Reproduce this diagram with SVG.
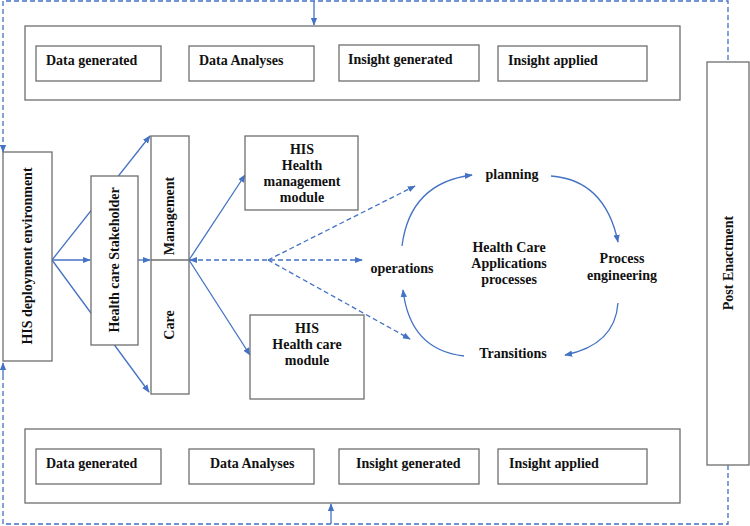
<svg xmlns="http://www.w3.org/2000/svg" width="750" height="526" viewBox="0 0 750 526">
<style>
.b{fill:#fff;stroke:#6e6e6e;stroke-width:1.3}
.t{font-family:"Liberation Serif",serif;font-weight:bold;font-size:14px;fill:#111}
.c{text-anchor:middle}
.l{stroke:#4472c4;stroke-width:1.3;fill:none}
.d{stroke-dasharray:5,3}
</style>
<defs>
<marker id="a" viewBox="0 0 10 10" refX="9" refY="5" markerWidth="8" markerHeight="8" orient="auto-start-reverse" markerUnits="userSpaceOnUse"><path d="M0,1 L10,5 L0,9z" fill="#4472c4"/></marker>
</defs>
<g id="connectors">
<path class="l d" d="M3,150 V1 H728 V62"/>
<path class="l" d="M314,1 V25" marker-end="url(#a)"/>
<path class="l" d="M3,149 V152" marker-end="url(#a)"/>
<path class="l d" d="M3,375 V524 H728 V465"/>
<path class="l" d="M3,375 V363" marker-end="url(#a)"/>
<path class="l" d="M331,524 V504" marker-end="url(#a)"/>
<path class="l" d="M52,260 L150,136" marker-end="url(#a)"/>
<path class="l" d="M52,260 L149,392" marker-end="url(#a)"/>
<path class="l" d="M52,260 H90" marker-end="url(#a)"/>
<path class="l" d="M138,260 H150" marker-end="url(#a)"/>
<path class="l" d="M189,260 L245,175" marker-end="url(#a)"/>
<path class="l" d="M189,260 L250,355" marker-end="url(#a)"/>
<path class="l d" d="M190,260 H362" marker-start="url(#a)" marker-end="url(#a)"/>
<path class="l d" d="M268,260 L415,186" marker-end="url(#a)"/>
<path class="l d" d="M268,260 L410,339" marker-end="url(#a)"/>
<path class="l" d="M402,246 Q410,183 472,175" marker-end="url(#a)"/>
<path class="l" d="M551,176 Q605,180 618,242" marker-end="url(#a)"/>
<path class="l" d="M618,303 Q615,345 565,355" marker-end="url(#a)"/>
<path class="l" d="M464,356 Q410,350 403,290" marker-end="url(#a)"/>
</g>
<g id="top-group">
<rect class="b" x="25" y="26" width="655" height="74"/>
<rect class="b" x="36" y="46" width="125" height="35"/><text class="t" x="46" y="65">Data generated</text>
<rect class="b" x="189" y="46" width="125" height="35"/><text class="t" x="199" y="65">Data Analyses</text>
<rect class="b" x="339" y="45" width="140" height="36"/><text class="t" x="348" y="64">Insight generated</text>
<rect class="b" x="498" y="46" width="149" height="35"/><text class="t" x="508" y="65">Insight applied</text>
</g>
<g id="bottom-group">
<rect class="b" x="25" y="429" width="655" height="74"/>
<rect class="b" x="36" y="449" width="125" height="35"/><text class="t" x="46" y="468">Data generated</text>
<rect class="b" x="189" y="449" width="125" height="35"/><text class="t" x="210" y="468">Data Analyses</text>
<rect class="b" x="339" y="449" width="140" height="35"/><text class="t" x="356" y="468">Insight generated</text>
<rect class="b" x="498" y="449" width="149" height="35"/><text class="t" x="509" y="468">Insight applied</text>
</g>
<g id="his-deployment">
<rect class="b" x="3" y="152" width="49" height="209"/>
<text class="t c" transform="translate(32,256) rotate(-90)">HIS deployment environment</text>
</g>
<g id="stakeholder">
<rect class="b" x="91" y="176" width="47" height="169"/>
<text class="t c" transform="translate(119,260) rotate(-90)">Health care Stakeholder</text>
</g>
<g id="mgmt-care">
<rect class="b" x="151" y="136" width="38" height="258"/>
<line x1="151" y1="260" x2="189" y2="260" stroke="#6e6e6e" stroke-width="1.3"/>
<text class="t c" transform="translate(174,216) rotate(-90)">Management</text>
<text class="t c" transform="translate(174,325) rotate(-90)">Care</text>
</g>
<g id="his-mgmt">
<rect class="b" x="245" y="136" width="113" height="74"/>
<text class="t c" x="302" y="154">HIS</text>
<text class="t c" x="302" y="170">Health</text>
<text class="t c" x="302" y="186">management</text>
<text class="t c" x="302" y="202">module</text>
</g>
<g id="his-care">
<rect class="b" x="250" y="315" width="114" height="84"/>
<text class="t c" x="307" y="333">HIS</text>
<text class="t c" x="307" y="349">Health care</text>
<text class="t c" x="307" y="365">module</text>
</g>
<g id="cycle">
<text class="t c" x="512" y="179">planning</text>
<text class="t c" x="622" y="263">Process</text>
<text class="t c" x="622" y="280">engineering</text>
<text class="t c" x="513" y="358">Transitions</text>
<text class="t c" x="402" y="273">operations</text>
<text class="t c" x="509" y="252">Health Care</text>
<text class="t c" x="509" y="268">Applications</text>
<text class="t c" x="509" y="284">processes</text>
</g>
<g id="post-enactment">
<rect class="b" x="707" y="62" width="42" height="403"/>
<text class="t c" transform="translate(733,263) rotate(-90)">Post Enactment</text>
</g>
</svg>
